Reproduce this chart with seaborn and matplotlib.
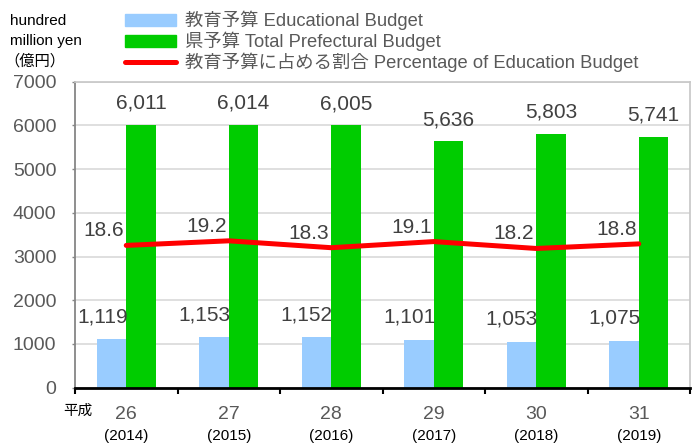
import numpy as np
import pandas as pd
import seaborn as sns
import matplotlib.pyplot as plt
from matplotlib.patches import Patch
from matplotlib.lines import Line2D

# 平成 years / western years
years = ['26', '27', '28', '29', '30', '31']
western_years = ['(2014)', '(2015)', '(2016)', '(2017)', '(2018)', '(2019)']

# hundred million yen
edu_budget = [1119, 1153, 1152, 1101, 1053, 1075]
total_budget = [6011, 6014, 6005, 5636, 5803, 5741]
# percent
edu_share = [18.6, 19.2, 18.3, 19.1, 18.2, 18.8]

series_names = ['教育予算 Educational Budget', '県予算 Total Prefectural Budget']
line_name = '教育予算に占める割合 Percentage of Education Budget'
bar_colors = ['#99CCFF', '#00CC00']

sns.set_theme(style='white')
plt.rcParams['font.family'] = ['Liberation Sans', 'Noto Sans CJK JP']

df = pd.DataFrame({
    'year': years * 2,
    'budget': edu_budget + total_budget,
    'series': [series_names[0]] * len(years) + [series_names[1]] * len(years),
})

W, H = 698, 443
fig = plt.figure(figsize=(W / 100, H / 100), dpi=100)
ax = fig.add_axes([75 / W, (H - 387.7) / H, (690 - 75) / W, (387.7 - 81.7) / H])

sns.barplot(data=df, x='year', y='budget', hue='series', palette=bar_colors,
            width=0.575, gap=0, saturation=1, legend=False, linewidth=0,
            edgecolor='none', ax=ax)
ax.set_axisbelow(True)
ax.set_xlim(-0.5, len(years) - 0.5)
ax.set_ylim(0, 7000)
ax.set_yticks(range(0, 7001, 1000))
ax.set_xlabel('')
ax.set_ylabel('')
ax.yaxis.grid(True, color='#d9d9d9', lw=1.2)
ax.xaxis.grid(False)

# ticks on category edges, labels in the middle
ax.set_xticks(np.arange(-0.5, len(years), 1))
ax.set_xticklabels([])
ax.set_xticks(range(len(years)), minor=True)
ax.set_xticklabels(years, minor=True)
ax.tick_params(axis='x', which='major', bottom=True, length=4, width=1.5, color='black')
ax.tick_params(axis='x', which='minor', bottom=True, length=0, pad=13,
               labelsize=14, labelcolor='#595959')
ax.tick_params(axis='y', left=True, length=2.5, width=1, color='#868686', pad=11,
               labelsize=14, labelcolor='#595959')

for side in ['top', 'right']:
    ax.spines[side].set_color('#c8c8c8')
ax.spines['left'].set_color('#868686')
ax.spines['left'].set_linewidth(1.3)
ax.spines['bottom'].set_color('black')
ax.spines['bottom'].set_linewidth(2)

# value labels
for bar in ax.containers[0]:
    ax.annotate(f'{bar.get_height():,.0f}', (bar.get_x() + bar.get_width(), bar.get_height()),
                xytext=(1, 16), textcoords='offset points', ha='right', va='center',
                fontsize=15, color='#404040')
for bar in ax.containers[1]:
    ax.annotate(f'{bar.get_height():,.0f}', (bar.get_x() + bar.get_width() / 2, bar.get_height()),
                xytext=(0, 15.5), textcoords='offset points', ha='center', va='center',
                fontsize=15, color='#404040')

for i, yr in enumerate(western_years):
    ax.text(i, -0.157, yr, transform=ax.get_xaxis_transform(), ha='center', va='center',
            fontsize=11, color='black')
ax.text(-0.471, -0.076, '平成', transform=ax.get_xaxis_transform(), ha='center', va='center',
        fontsize=10.5, color='black')

# percentage line on hidden second axis
ax2 = ax.twinx()
sns.lineplot(x=np.arange(len(years)), y=edu_share, ax=ax2, color='#FF0000', lw=3.6,
             solid_capstyle='round')
ax2.set_ylim(0, 40)
ax2.set_xlim(-0.5, len(years) - 0.5)
ax2.set_yticks([])
for s in ax2.spines.values():
    s.set_visible(False)
for i, v in enumerate(edu_share):
    ax2.annotate(f'{v:.1f}', (i, v), xytext=(-1.5, 10.5), textcoords='offset points',
                 ha='right', va='center', fontsize=15, color='#404040')

# unit text
for k, t in enumerate(['hundred', 'million yen', '（億円）']):
    fig.text(10 / W if k < 2 else 4 / W, 1 - (21 + 20 * k) / H, t, ha='left', va='center',
             fontsize=11, color='black')

handles = [Patch(color=bar_colors[0]), Patch(color=bar_colors[1]),
           Line2D([], [], color='#FF0000', lw=3.6, solid_capstyle='round')]
fig.legend(handles, series_names + [line_name], loc='upper left',
           bbox_to_anchor=(125 / W, 1 - 11 / H), frameon=False, fontsize=13.2,
           labelcolor='#595959', handlelength=2.8, handleheight=0.6, handletextpad=0.45,
           labelspacing=0.08, borderpad=0, borderaxespad=0)

fig.savefig('out.png', dpi=100)
